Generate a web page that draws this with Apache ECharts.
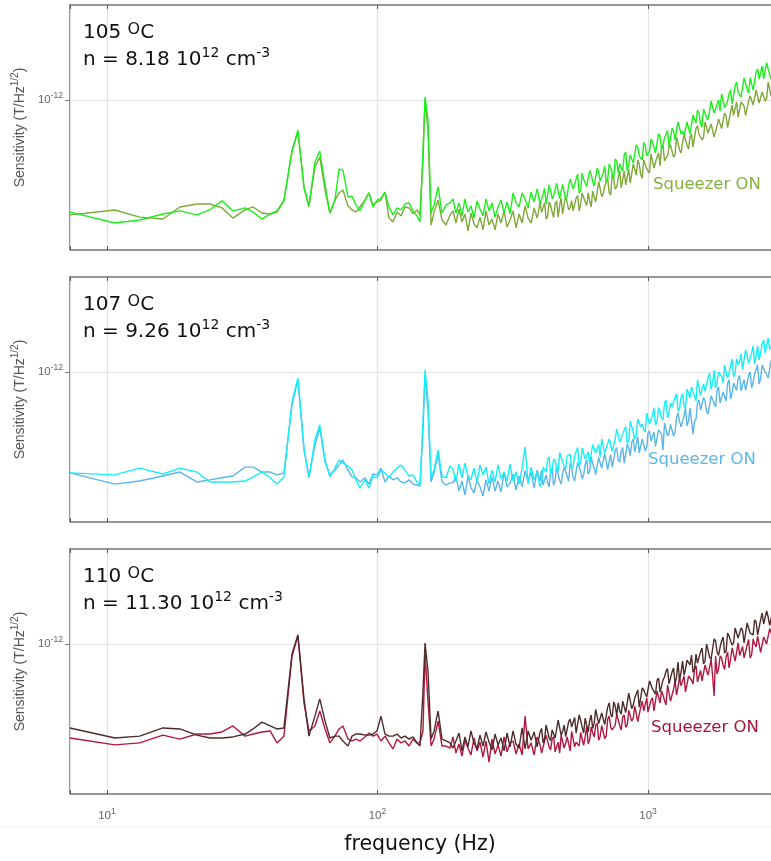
<!DOCTYPE html>
<html>
<head>
<meta charset="utf-8">
<title>Sensitivity vs frequency</title>
<script src="https://cdn.jsdelivr.net/npm/echarts@6.0.0/dist/echarts.min.js"></script>
<style>
  html, body { margin: 0; padding: 0; background: #fff; }
  #chart { width: 771px; height: 861px; }
</style>
</head>
<body>
<div id="chart"></div>
<script>
// frequency bins (Hz), shared by all six traces
const freqHz = [
  7.3, 10.7, 13.2, 16.1, 18.6, 21.5, 24.0, 26.6, 29.2, 32.4,
  34.7, 37.4, 40.1, 42.5, 45.1, 48.3, 50.8, 53.5, 55.8, 58.7,
  61.2, 64.0, 66.7, 69.6, 72.1, 74.5, 77.8, 80.5, 83.2, 86.1,
  89.9, 93.0, 96.2, 99.6, 103.0, 106.6, 110.3, 114.1, 118.1, 122.2,
  126.4, 130.8, 135.3, 140.0, 143.6, 147.3, 149.9, 153.7, 157.8, 161.9,
  167.5, 173.2, 179.2, 185.4,
  190.1, 195.0, 200.1, 205.3, 210.6, 216.0, 221.6, 227.4, 233.3, 239.3,
  245.5, 251.9, 258.4, 265.1, 272.0, 279.0, 286.2, 293.7, 301.3, 309.1,
  317.1, 325.3, 333.7, 342.4, 351.3, 360.4, 369.7, 379.3, 389.1, 399.2,
  409.5, 420.1, 431.0, 442.2, 453.6, 465.4, 477.4, 489.8, 502.5, 515.5,
  528.8, 542.5, 556.6, 571.0, 585.8, 601.0, 616.5, 632.5, 648.9, 665.7,
  682.9, 700.6, 718.8, 737.4, 756.5, 776.1, 796.2, 816.8, 838.0, 859.7,
  881.9, 904.8, 928.2, 952.3, 976.9, 1000, 1026, 1052, 1080, 1108,
  1136, 1166, 1196, 1227, 1259, 1291, 1325, 1359, 1394, 1430,
  1467, 1505, 1544, 1584, 1625, 1667, 1711, 1755, 1800, 1847,
  1895, 1944, 1994, 2046, 2099, 2153, 2209, 2266, 2325, 2385,
  2447, 2510, 2575, 2642, 2710, 2781, 2853, 2926, 3002, 3080
];
// extra bins in the dense high-frequency band
const freqFine = [
  404.3, 414.8, 425.5, 436.5, 447.9, 459.4, 471.4, 483.5, 496.1, 509.0,
  522.1, 535.6, 549.5, 563.8, 578.3, 593.3, 608.7, 624.4, 640.6, 657.2,
  674.3, 691.7, 709.6, 728.0, 746.9, 766.2, 786.1, 806.4, 827.3, 848.8,
  870.7, 893.2, 916.4, 940.1, 964.5, 989.5, 1013, 1039, 1066, 1094,
  1122, 1151, 1181, 1211, 1243, 1275, 1308, 1342, 1376, 1412,
  1448, 1486, 1524, 1564, 1604, 1646, 1688, 1733, 1778, 1823,
  1871, 1919, 1969, 2020, 2072, 2126, 2181, 2237, 2295, 2355,
  2416, 2478, 2542, 2608, 2676, 2745, 2817, 2890, 2964, 3041
];

// sensitivity in units of 1e-13 T/Hz^1/2, squeezer off / on
const off105 = [
  4.23, 3.89, 3.98, 4.17, 4.27, 4.14, 4.30, 4.61, 4.27, 4.37,
  4.23, 4.01, 4.17, 4.27, 4.64, 6.71, 7.94, 5.13, 4.44, 6.21,
  6.76, 5.21, 4.20, 4.64, 5.89, 5.84, 4.75, 4.78, 4.47, 4.27,
  4.64, 4.90, 4.40, 4.64, 4.71, 4.93, 4.40, 4.14, 4.37, 4.30,
  4.50, 4.54, 4.27, 4.11, 3.92, 6.81, 10.23, 8.58, 4.20, 4.47,
  5.13, 4.20, 4.47, 4.54,
  4.68, 4.20, 4.54, 4.11, 4.68, 4.23, 4.44, 4.04, 4.61, 4.33,
  4.11, 4.68, 4.27, 4.54, 4.07, 4.40, 4.64, 4.20, 4.57, 4.17,
  4.90, 4.54, 4.40, 4.90, 4.68, 4.37, 4.93, 4.57, 5.05, 4.50,
  4.86, 4.50, 5.21, 4.68, 4.86, 5.21, 4.64, 5.17, 4.78, 5.45,
  5.05, 5.45, 4.90, 5.71, 5.29, 5.17, 5.66, 5.17, 5.93, 5.37,
  5.71, 5.33, 6.11, 5.71, 6.36, 5.71, 6.11, 6.56, 5.80, 6.56,
  6.16, 7.08, 6.50, 6.31, 7.08, 6.61, 7.41, 6.97, 6.66, 7.58,
  7.08, 7.58, 6.92, 8.06, 7.36, 8.45, 7.70, 7.58, 8.45, 7.70,
  8.91, 8.38, 9.05, 8.13, 9.19, 8.58, 9.92, 9.05, 9.70, 9.19,
  10.63, 9.62, 10.47, 9.70, 11.13, 10.63, 10.23, 11.84, 10.88, 11.84,
  10.80, 12.39, 11.75, 12.98, 11.75, 12.68, 11.75, 13.80, 12.39, 13.38
];
const off105Fine = [
  4.55, 5.07, 4.48, 4.99, 4.80, 5.27, 4.69, 5.23, 4.66, 5.21,
  5.43, 5.03, 5.66, 4.99, 5.43, 5.15, 5.82, 5.35, 5.13, 5.73,
  5.53, 6.02, 5.45, 5.96, 5.45, 6.26, 6.12, 5.78, 6.71, 6.07,
  6.61, 6.07, 6.95, 6.56, 7.22, 6.51, 6.74, 7.25, 6.66, 7.73,
  6.86, 7.47, 7.91, 6.97, 7.88, 7.47, 8.42, 7.88, 7.58, 8.58,
  7.76, 8.65, 9.26, 8.32, 9.33, 8.75, 8.51, 9.92, 9.33, 10.00,
  10.47, 9.44, 9.92, 10.80, 9.85, 11.48, 10.39, 11.05, 11.75, 10.55,
  11.89, 10.88, 12.69, 11.93, 11.75, 13.33, 12.16, 12.98, 11.98, 13.64
];
const on105 = [
  4.14, 4.30, 4.07, 4.01, 4.40, 4.50, 4.50, 4.37, 4.04, 4.30,
  4.40, 4.20, 4.17, 4.23, 4.61, 6.81, 7.82, 5.09, 4.40, 5.98,
  6.45, 5.01, 4.20, 4.64, 4.90, 5.01, 4.44, 4.30, 4.23, 4.40,
  4.64, 4.90, 4.47, 4.57, 4.64, 4.93, 4.04, 3.92, 4.23, 4.11,
  4.40, 4.37, 4.17, 4.30, 4.14, 6.31, 10.00, 7.94, 3.83, 4.23,
  4.64, 3.98, 3.83, 4.14,
  4.27, 3.89, 4.33, 3.92, 4.17, 3.66, 4.20, 3.86, 3.75, 4.07,
  3.69, 4.27, 3.83, 4.01, 3.69, 4.17, 3.89, 4.27, 3.77, 3.98,
  4.27, 3.75, 4.17, 3.89, 4.44, 4.04, 3.89, 4.37, 4.04, 4.54,
  4.23, 4.01, 4.57, 4.23, 4.50, 4.07, 4.71, 4.23, 4.82, 4.37,
  4.27, 4.71, 4.27, 4.90, 4.57, 4.90, 4.40, 4.97, 4.61, 5.37,
  4.86, 5.21, 4.90, 5.66, 5.05, 5.49, 5.09, 5.80, 5.53, 5.29,
  6.11, 5.62, 6.11, 5.49, 6.31, 5.98, 6.61, 5.93, 6.45, 6.03,
  7.08, 6.41, 6.92, 7.14, 6.56, 7.19, 6.66, 7.64, 7.08, 7.53,
  6.97, 8.06, 7.70, 7.36, 8.45, 7.76, 8.32, 7.53, 8.20, 8.77,
  8.06, 8.84, 8.13, 9.62, 8.98, 8.77, 9.85, 9.55, 8.98, 10.31,
  9.62, 10.80, 9.77, 10.63, 9.92, 11.48, 10.31, 10.72, 11.48, 10.23
];
const on105Fine = [
  4.22, 4.55, 4.09, 4.45, 4.06, 4.61, 4.45, 4.17, 4.80, 4.30,
  4.62, 4.22, 4.80, 4.52, 4.96, 4.45, 4.61, 4.97, 4.57, 5.35,
  4.76, 5.17, 5.47, 4.82, 5.43, 5.13, 5.80, 5.43, 5.21, 5.86,
  5.29, 5.89, 6.31, 5.64, 6.31, 5.89, 5.71, 6.63, 6.21, 6.66,
  6.97, 6.26, 6.53, 7.08, 6.45, 7.53, 6.81, 7.22, 7.64, 6.86,
  7.70, 7.03, 8.20, 7.67, 7.49, 8.48, 7.73, 8.22, 7.55, 8.64,
  8.03, 9.05, 8.09, 9.12, 8.88, 9.85, 8.84, 9.92, 8.88, 9.92,
  10.39, 9.70, 10.96, 9.70, 10.63, 10.12, 11.44, 10.51, 10.12, 11.35
];
const off107 = [
  4.61, 4.54, 4.78, 4.57, 4.78, 4.64, 4.30, 4.30, 4.30, 4.33,
  4.47, 4.64, 4.44, 4.23, 4.47, 7.94, 9.55, 5.58, 4.44, 5.93,
  6.66, 5.09, 4.47, 4.78, 5.09, 4.97, 4.86, 4.71, 4.37, 4.11,
  4.37, 4.11, 4.50, 4.44, 4.71, 4.61, 4.44, 4.64, 4.78, 4.90,
  4.71, 4.50, 4.54, 4.30, 4.20, 6.92, 10.15, 8.06, 4.44, 4.71,
  5.49, 4.50, 4.44, 4.86,
  4.75, 4.30, 4.93, 4.44, 4.97, 4.50, 4.37, 4.78, 4.30, 4.90,
  4.54, 4.82, 4.23, 4.71, 4.30, 4.90, 4.40, 4.64, 4.33, 4.93,
  4.33, 4.64, 4.23, 4.78, 5.62, 4.23, 4.82, 4.37, 4.64, 4.14,
  4.82, 4.64, 5.21, 4.71, 5.05, 4.68, 5.45, 4.86, 5.25, 5.33,
  4.86, 5.29, 4.86, 5.58, 5.13, 5.41, 4.97, 5.71, 5.45, 5.21,
  6.03, 5.58, 5.98, 5.45, 5.98, 6.41, 5.84, 6.41, 5.80, 6.86,
  6.31, 6.16, 6.92, 6.71, 6.31, 7.25, 6.76, 7.58, 6.86, 7.41,
  6.92, 8.06, 7.30, 7.64, 8.25, 7.41, 8.25, 7.70, 8.77, 8.20,
  8.91, 8.00, 9.41, 8.77, 8.64, 9.55, 8.77, 10.15, 9.26, 9.85,
  9.19, 10.55, 9.92, 11.05, 9.92, 10.63, 11.48, 10.08, 11.39, 10.63,
  12.21, 11.31, 10.96, 12.39, 11.57, 12.98, 12.12, 11.48, 13.18, 12.21
];
const off107Fine = [
  4.30, 4.75, 5.13, 4.57, 5.13, 4.80, 5.39, 5.01, 4.76, 5.33,
  4.76, 5.27, 5.60, 4.99, 5.56, 5.15, 4.96, 5.73, 5.37, 5.73,
  5.98, 5.37, 5.60, 6.07, 5.53, 6.45, 5.84, 6.21, 6.58, 5.89,
  6.58, 5.98, 6.97, 6.56, 6.43, 7.30, 6.71, 7.19, 6.66, 7.61,
  7.03, 7.88, 7.03, 7.88, 7.64, 8.45, 7.55, 8.45, 7.58, 8.51,
  8.91, 8.32, 9.41, 8.32, 9.12, 8.71, 9.92, 9.16, 8.84, 10.00,
  9.70, 10.55, 9.55, 10.47, 9.62, 11.05, 10.80, 10.19, 11.84, 10.68,
  11.57, 10.63, 12.21, 11.57, 12.78, 11.53, 11.89, 12.74, 11.66, 13.54
];
const on107 = [
  4.61, 4.23, 4.33, 4.50, 4.64, 4.30, 4.37, 4.44, 4.50, 4.82,
  4.82, 4.64, 4.64, 4.54, 4.61, 7.76, 9.41, 5.49, 4.47, 5.71,
  6.50, 5.01, 4.54, 4.71, 4.90, 5.09, 4.71, 4.47, 4.44, 4.30,
  4.44, 4.23, 4.57, 4.54, 4.78, 4.30, 4.50, 4.37, 4.44, 4.30,
  4.27, 4.37, 4.23, 4.20, 4.17, 6.41, 9.77, 7.47, 4.30, 4.64,
  5.29, 4.30, 4.20, 4.27,
  4.27, 4.50, 4.01, 4.33, 3.89, 4.50, 4.11, 3.95, 4.37, 4.14,
  3.86, 4.37, 4.01, 4.47, 4.01, 4.33, 3.98, 4.61, 4.14, 4.27,
  4.57, 4.04, 4.50, 4.14, 4.68, 4.30, 4.64, 4.11, 4.71, 4.33,
  4.20, 4.54, 4.14, 4.78, 4.33, 4.57, 4.23, 4.82, 4.50, 4.97,
  4.44, 4.68, 5.01, 4.40, 4.90, 4.57, 5.21, 4.78, 4.61, 5.17,
  4.82, 5.41, 5.05, 4.82, 5.49, 5.09, 5.45, 4.97, 5.75, 5.25,
  5.98, 5.49, 5.37, 5.98, 5.45, 6.26, 5.89, 6.31, 5.66, 6.41,
  5.49, 6.86, 6.26, 6.66, 6.31, 7.30, 6.56, 7.14, 6.61, 7.58,
  6.21, 6.97, 8.06, 7.41, 8.00, 7.25, 8.32, 7.88, 8.71, 7.88,
  8.58, 8.00, 9.41, 8.51, 9.26, 9.48, 8.64, 9.41, 8.64, 10.00,
  9.26, 9.85, 9.12, 10.55, 10.00, 9.55, 10.96, 10.08, 10.88, 9.85
];
const on107Fine = [
  4.71, 4.16, 4.28, 4.62, 4.19, 4.84, 4.35, 4.59, 4.84, 4.32,
  4.80, 4.33, 4.99, 4.66, 4.54, 5.11, 4.66, 4.96, 4.55, 5.19,
  4.78, 5.35, 4.73, 5.29, 5.11, 5.60, 5.01, 5.60, 4.99, 5.58,
  5.82, 5.41, 6.09, 5.37, 5.89, 5.60, 6.36, 5.86, 5.66, 6.41,
  6.21, 6.76, 6.12, 6.69, 6.12, 7.03, 6.86, 6.51, 7.58, 6.86,
  7.47, 6.86, 7.88, 7.47, 8.22, 7.41, 7.70, 8.32, 7.64, 8.91,
  7.94, 8.64, 9.19, 8.13, 9.19, 8.68, 9.73, 9.08, 8.68, 9.77,
  8.84, 9.85, 10.55, 9.48, 10.59, 9.81, 9.44, 10.92, 10.23, 10.92
];
const off110 = [
  5.25, 4.86, 4.93, 5.25, 5.21, 4.97, 4.86, 4.86, 4.90, 5.01,
  5.21, 5.49, 5.33, 5.21, 5.25, 9.26, 10.72, 6.56, 4.93, 5.75,
  6.56, 5.53, 4.86, 4.93, 4.93, 4.75, 4.57, 4.93, 5.01, 5.01,
  4.97, 4.97, 5.01, 5.13, 5.75, 5.01, 4.93, 4.93, 5.01, 4.86,
  4.93, 4.82, 4.90, 4.68, 4.57, 6.97, 10.08, 8.13, 4.82, 5.13,
  5.98, 4.82, 4.75, 4.68,
  4.50, 4.75, 5.05, 4.40, 4.90, 4.54, 5.13, 4.68, 4.47, 4.97,
  4.57, 5.09, 4.71, 4.44, 5.01, 4.61, 4.86, 4.40, 5.05, 4.54,
  5.13, 4.64, 4.50, 5.25, 4.47, 5.13, 4.78, 5.09, 4.54, 5.09,
  4.68, 5.37, 4.86, 5.17, 4.86, 5.58, 4.97, 5.37, 4.93, 5.62,
  5.29, 5.05, 5.80, 5.29, 5.66, 5.09, 5.80, 5.45, 5.98, 5.37,
  5.84, 5.41, 6.36, 5.71, 6.21, 6.36, 5.84, 6.41, 5.89, 6.81,
  6.26, 6.66, 6.16, 7.14, 6.81, 6.56, 7.58, 7.03, 7.58, 6.92,
  7.58, 8.13, 7.36, 8.06, 7.36, 8.71, 8.06, 7.88, 8.84, 8.51,
  8.06, 9.26, 8.64, 9.70, 8.77, 9.55, 8.91, 10.39, 9.41, 9.77,
  10.55, 9.48, 10.63, 9.92, 11.31, 10.47, 11.31, 10.08, 11.75, 10.88,
  10.72, 11.84, 10.88, 12.68, 11.57, 12.30, 11.39, 12.98, 12.12, 13.49
];
const off110Fine = [
  5.23, 4.84, 5.43, 4.76, 5.19, 4.91, 5.56, 5.11, 4.91, 5.51,
  5.29, 5.69, 5.11, 5.56, 5.05, 5.73, 5.56, 5.23, 6.05, 5.43,
  5.89, 5.39, 6.16, 5.82, 6.41, 5.78, 5.98, 6.45, 5.91, 6.86,
  6.09, 6.61, 7.03, 6.21, 7.03, 6.66, 7.53, 7.08, 6.81, 7.70,
  6.97, 7.76, 8.28, 7.41, 8.32, 7.76, 7.53, 8.77, 8.25, 8.81,
  9.19, 8.25, 8.64, 9.41, 8.58, 10.00, 9.05, 9.62, 10.23, 9.16,
  10.23, 9.33, 10.88, 10.23, 10.08, 11.44, 10.43, 11.09, 10.19, 11.62,
  10.72, 12.03, 10.72, 12.03, 11.66, 12.88, 11.53, 12.83, 11.44, 12.78
];
const on110 = [
  4.86, 4.61, 4.68, 4.97, 4.82, 5.01, 5.01, 5.09, 5.33, 4.93,
  5.01, 5.09, 5.13, 4.68, 4.93, 9.12, 10.63, 6.36, 5.13, 5.33,
  5.98, 5.21, 4.68, 4.93, 5.21, 5.33, 4.82, 4.75, 4.82, 4.75,
  4.90, 5.05, 4.93, 5.01, 4.75, 4.93, 4.68, 4.47, 4.82, 4.68,
  4.75, 4.57, 4.82, 4.68, 4.68, 5.13, 9.26, 6.45, 4.57, 4.82,
  5.53, 4.57, 4.57, 4.50,
  4.90, 4.33, 4.64, 4.23, 4.78, 4.50, 4.27, 4.86, 4.40, 4.71,
  4.20, 4.75, 4.04, 4.82, 4.30, 4.61, 4.23, 4.90, 4.37, 4.68,
  4.75, 4.30, 4.64, 4.27, 5.75, 4.47, 4.68, 4.27, 4.90, 4.61,
  4.37, 4.97, 4.54, 4.82, 4.37, 4.71, 4.97, 4.50, 4.90, 4.40,
  5.17, 4.71, 4.57, 5.09, 4.90, 4.64, 5.29, 4.90, 5.45, 4.93,
  5.33, 4.93, 5.75, 5.17, 5.37, 5.80, 5.17, 5.80, 5.37, 6.07,
  5.66, 6.16, 5.49, 6.45, 6.03, 5.93, 6.50, 5.98, 6.97, 6.36,
  6.76, 6.26, 7.19, 6.76, 7.53, 6.76, 7.25, 7.82, 6.92, 7.82,
  7.36, 8.45, 7.82, 7.53, 8.51, 7.88, 8.91, 6.71, 7.94, 9.12,
  8.51, 9.05, 8.32, 9.70, 8.77, 10.08, 9.19, 8.98, 9.92, 8.98,
  10.39, 9.77, 10.55, 9.41, 10.63, 9.85, 11.31, 10.31, 11.05, 10.47
];
const on110Fine = [
  4.33, 4.75, 5.01, 4.44, 4.91, 4.54, 4.33, 4.99, 4.66, 4.93,
  5.11, 4.54, 4.69, 5.07, 4.59, 5.33, 4.80, 5.07, 5.35, 4.78,
  5.35, 4.84, 5.62, 5.27, 5.15, 5.84, 5.35, 5.71, 5.27, 6.01,
  5.53, 6.21, 5.51, 6.16, 5.98, 6.61, 5.91, 6.61, 5.93, 6.66,
  6.97, 6.48, 7.30, 6.45, 7.08, 6.76, 7.70, 7.14, 6.92, 7.82,
  7.58, 8.25, 7.47, 8.16, 7.47, 8.55, 8.32, 7.85, 9.12, 8.25,
  8.98, 8.22, 9.41, 8.91, 9.81, 8.84, 9.16, 9.81, 8.94, 10.35,
  9.19, 10.00, 10.63, 9.37, 10.55, 10.00, 11.26, 10.55, 10.15, 11.48
];

const temps = ['105', '107', '110'];
const densities = ['8.18', '9.26', '11.30'];
const yTicks = [1e-12];

const UNIT = 1e-13;
const X_MIN = 7.3, X_MAX = 3102;
const Y_MIN = 3.1623e-13, Y_MAX = 2.073e-12;

const panels = [
  { off: off105, offFine: off105Fine, on: on105, onFine: on105Fine,
    offColor: '#1def1d', onColor: '#7fa838', tagColor: '#84b03e', tagX: 653, tagY: 176 },
  { off: off107, offFine: off107Fine, on: on107, onFine: on107Fine,
    offColor: '#16eefa', onColor: '#5ab6ea', tagColor: '#5cb6ea', tagX: 648, tagY: 451 },
  { off: off110, offFine: off110Fine, on: on110, onFine: on110Fine,
    offColor: '#4e2b2b', onColor: '#b3173f', tagColor: '#a8133b', tagX: 651, tagY: 719 }
];
const panelTop = [5, 277, 549];
const panelHeight = 245;

function pairs(values, fineValues) {
  if (values.length !== freqHz.length) throw new Error('length mismatch: ' + values.length);
  if (fineValues.length !== freqFine.length) throw new Error('fine length mismatch: ' + fineValues.length);
  const pts = freqHz.map((f, i) => [f, values[i] * UNIT])
    .concat(freqFine.map((f, i) => [f, fineValues[i] * UNIT]));
  pts.sort((a, b) => a[0] - b[0]);
  return pts;
}

function powLabel(v) {
  const e = Math.log10(v);
  if (Math.abs(e - Math.round(e)) > 1e-6) return '';
  return '{b|10}{s|' + Math.round(e) + '}';
}

const labelRich = {
  b: { fontSize: 11.5, color: '#666', fontFamily: 'Liberation Sans' },
  s: { fontSize: 8.5, color: '#666', fontFamily: 'Liberation Sans', padding: [0, 0, 9, 0] }
};

const titleRich = {
  t: { fontSize: 20, lineHeight: 27, color: '#111', fontWeight: 'normal', fontFamily: 'DejaVu Sans' },
  o: { fontSize: 16, lineHeight: 27, color: '#111', fontWeight: 'normal', fontFamily: 'DejaVu Sans', padding: [0, 0, 5, 0] },
  s: { fontSize: 14, lineHeight: 27, color: '#111', fontWeight: 'normal', fontFamily: 'DejaVu Sans', padding: [0, 0, 12, 0] }
};

const grid = [], xAxis = [], yAxis = [], series = [], title = [], graphic = [];

panels.forEach((p, i) => {
  grid.push({
    left: 70, width: 711, top: panelTop[i], height: panelHeight,
    outerBoundsMode: 'none', containLabel: false,
    show: true, borderColor: '#767676', borderWidth: 1.6
  });
  // bottom axis
  xAxis.push({
    type: 'log', gridIndex: i, min: X_MIN, max: X_MAX,
    axisLine: { show: false },
    axisTick: { show: true, inside: true, length: 4, lineStyle: { color: '#555' } },
    axisLabel: { show: i === 2, formatter: powLabel, margin: 13, rich: labelRich },
    splitLine: { show: true, lineStyle: { color: '#e2e2e2', width: 1.2 } },
    minorTick: { show: false }
  });
  // top axis, only for the inward tick marks
  xAxis.push({
    type: 'log', gridIndex: i, position: 'top', min: X_MIN, max: X_MAX,
    axisLine: { show: false },
    axisTick: { show: true, inside: true, length: 4, lineStyle: { color: '#555' } },
    axisLabel: { show: false },
    splitLine: { show: false }
  });
  yAxis.push({
    type: 'log', gridIndex: i, min: Y_MIN, max: Y_MAX,
    axisLine: { show: false },
    axisTick: { show: true, length: 5, customValues: yTicks, lineStyle: { color: '#777' } },
    axisLabel: { customValues: yTicks, formatter: powLabel, margin: 7, rich: labelRich },
    splitLine: { show: true, lineStyle: { color: '#e2e2e2', width: 1.2 } },
    name: '{a|Sensitivity (T/Hz}{s|1/2}{a|)}',
    nameLocation: 'middle', nameRotate: 90, nameGap: 39,
    nameTextStyle: {
      rich: {
        a: { fontSize: 14, color: '#555', fontFamily: 'Liberation Sans' },
        s: { fontSize: 10, color: '#555', fontFamily: 'Liberation Sans', padding: [0, 0, 9, 0] }
      }
    }
  });
  series.push({
    name: 'on' + temps[i], type: 'line', xAxisIndex: 2 * i, yAxisIndex: i,
    data: pairs(p.on, p.onFine), symbol: 'none', silent: true,
    lineStyle: { width: 1.4, color: p.onColor }, itemStyle: { color: p.onColor }
  });
  series.push({
    name: 'off' + temps[i], type: 'line', xAxisIndex: 2 * i, yAxisIndex: i,
    data: pairs(p.off, p.offFine), symbol: 'none', silent: true,
    lineStyle: { width: 1.4, color: p.offColor }, itemStyle: { color: p.offColor }
  });
  title.push({
    left: 78, top: panelTop[i] + 9,
    text: '{t|' + temps[i] + ' }{o|O}{t|C}\n{t|n = ' + densities[i] + ' 10}{s|12}{t| cm}{s|-3}',
    textStyle: { fontWeight: 'normal', rich: titleRich }
  });
  graphic.push({
    type: 'text', left: p.tagX, top: p.tagY, silent: true,
    style: { text: 'Squeezer ON', fill: p.tagColor, font: '16.5px "DejaVu Sans"' }
  });
});

graphic.push({
  type: 'line', silent: true,
  shape: { x1: 0, y1: 827, x2: 771, y2: 827 },
  style: { stroke: '#ededed', lineWidth: 1 }
});
graphic.push({
  type: 'text', silent: true, x: 420, y: 845,
  style: { text: 'frequency (Hz)', fill: '#111', font: '20.5px "DejaVu Sans"', align: 'center', verticalAlign: 'middle' }
});

const chart = echarts.init(document.getElementById('chart'), null, { renderer: 'canvas' });
chart.setOption({
  backgroundColor: '#fff',
  animation: false,
  grid, xAxis, yAxis, series, title, graphic
});
</script>
</body>
</html>
